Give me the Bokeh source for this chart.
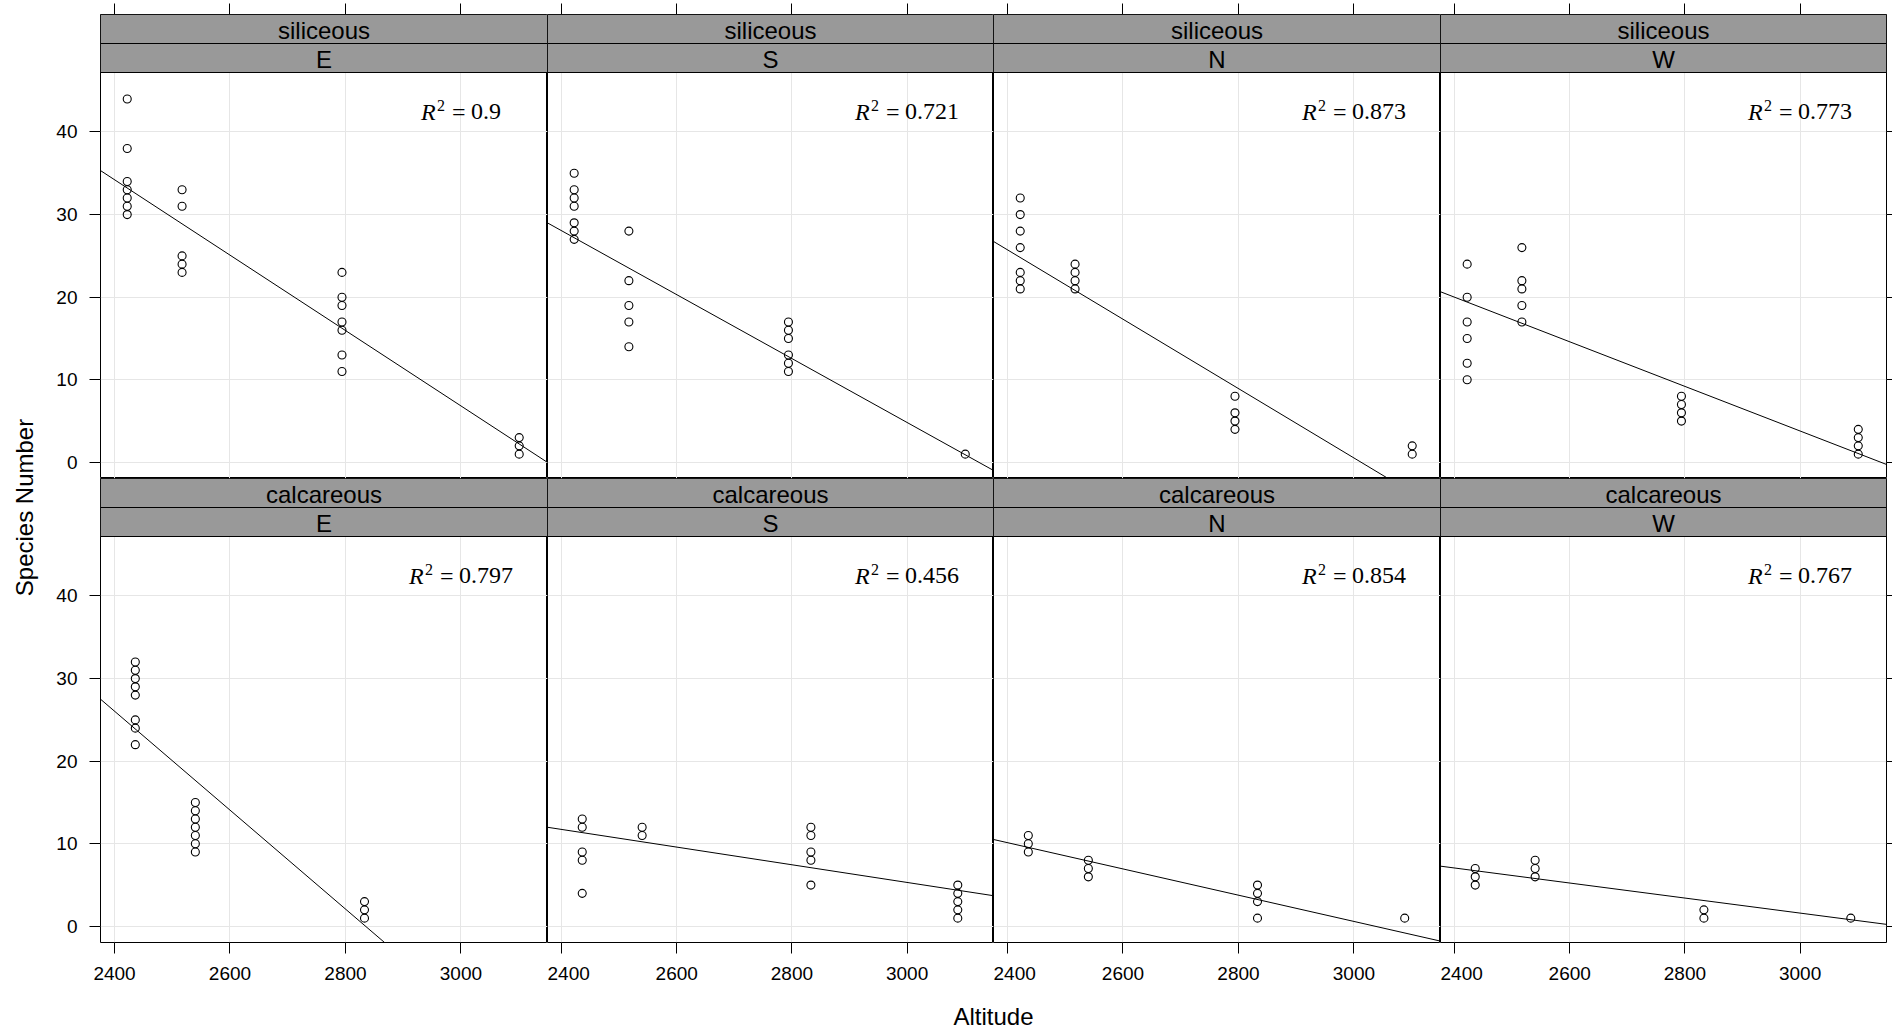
import math
from bokeh.plotting import figure
from bokeh.layouts import row, column
from bokeh.models import Range1d, FixedTicker, LinearAxis, CustomLabelingPolicy
from bokeh.core.properties import value
from bokeh.embed import file_html
from bokeh.resources import INLINE

# ---------------- data ----------------
soils = ["siliceous", "calcareous"]
aspects = ["E", "S", "N", "W"]
altitude_ticks = [2400, 2600, 2800, 3000]
species_ticks = [0, 10, 20, 30, 40]

siliceous_sites = [2422, 2517, 2794, 3101]
calcareous_sites = [2436, 2540, 2833, 3088]

# species numbers per site (one inner list per site, same order as the sites)
siliceous_E = [[44, 38, 34, 33, 32, 31, 30], [33, 31, 25, 24, 23], [23, 20, 19, 17, 16, 13, 11], [3, 2, 1]]
siliceous_S = [[35, 33, 32, 31, 29, 28, 27], [28, 22, 19, 17, 14], [17, 16, 15, 13, 12, 11], [1]]
siliceous_N = [[32, 30, 28, 26, 23, 22, 21], [24, 23, 22, 21], [8, 6, 5, 4], [2, 1]]
siliceous_W = [[24, 20, 17, 15, 12, 10], [26, 22, 21, 19, 17], [8, 7, 6, 5], [4, 3, 2, 1]]
calcareous_E = [[32, 31, 30, 29, 28, 25, 24, 22], [15, 14, 13, 12, 11, 10, 9], [3, 2, 1], []]
calcareous_S = [[13, 12, 9, 8, 4], [12, 11], [12, 11, 9, 8, 5], [5, 4, 3, 2, 1]]
calcareous_N = [[11, 10, 9], [8, 7, 6], [5, 4, 3, 1], [1]]
calcareous_W = [[7, 6, 5], [8, 7, 6], [2, 1], [1]]

r2_siliceous = ["0.9", "0.721", "0.873", "0.773"]
r2_calcareous = ["0.797", "0.456", "0.854", "0.767"]

# fitted regression lines: species = intercept + slope * altitude
fit_intercept_siliceous = [143.73, 120.93, 126.48, 84.80]
fit_slope_siliceous = [-0.04563, -0.03870, -0.04198, -0.02700]
fit_intercept_calcareous = [169.74, 37.42, 48.27, 28.91]
fit_slope_calcareous = [-0.05987, -0.01070, -0.01589, -0.00910]

groups = {
    ("siliceous", "E"): siliceous_E, ("siliceous", "S"): siliceous_S,
    ("siliceous", "N"): siliceous_N, ("siliceous", "W"): siliceous_W,
    ("calcareous", "E"): calcareous_E, ("calcareous", "S"): calcareous_S,
    ("calcareous", "N"): calcareous_N, ("calcareous", "W"): calcareous_W,
}
sites = {"siliceous": siliceous_sites, "calcareous": calcareous_sites}
r2 = {"siliceous": r2_siliceous, "calcareous": r2_calcareous}
fit_a = {"siliceous": fit_intercept_siliceous, "calcareous": fit_intercept_calcareous}
fit_b = {"siliceous": fit_slope_siliceous, "calcareous": fit_slope_calcareous}

# ---------------- layout / style ----------------
X_LO, X_HI = 2375.7, 3150.0
Y_LO, Y_HI = -1.95, 47.2
PLOT_H, STRIP_H = 406, 29
FRAME_H = PLOT_H + 2 * STRIP_H
U = (Y_HI - Y_LO) / PLOT_H          # data units per pixel (vertical)
Y_TOP = Y_HI + 2 * STRIP_H * U
FRAME_W = [447, 446, 447, 446]
LEFT_W, RIGHT_W, TOP_H, BOTTOM_H = 60, 6, 14, 52
YLAB_W, XLAB_H = 40, 39
TOTAL_W = 1892
SANS, SERIF = "Liberation Sans", "Liberation Serif"
INK, STRIP_FILL, GRID = "black", "#999999", "#e6e6e6"
R2_X = 3000


def num_width(s, fs=24):
    return sum(0.25 if ch == "." else 0.5 for ch in s) * fs


def style_axis(ax, ticks, labels, tick_out, standoff=0):
    ax.ticker = FixedTicker(ticks=ticks)
    ax.axis_line_color = None
    ax.major_tick_line_color = INK
    ax.major_tick_line_width = 1
    ax.major_tick_in = 0
    ax.major_tick_out = tick_out
    ax.minor_tick_line_color = None
    if labels:
        ax.major_label_text_font = SANS
        ax.major_label_text_font_size = "19px"
        ax.major_label_text_color = INK
        ax.major_label_standoff = standoff
    else:
        ax.major_label_text_font_size = "0px"
        ax.major_label_standoff = 0
        ax.major_label_policy = CustomLabelingPolicy(code="""
            const result = new Set()
            return result
        """)


def make_panel(r, c):
    soil, aspect = soils[r], aspects[c]
    left = LEFT_W if c == 0 else 0
    right = RIGHT_W if c == 3 else 0
    top = TOP_H if r == 0 else 0
    bottom = BOTTOM_H if r == 1 else 0
    p = figure(width=FRAME_W[c] + left + right, height=FRAME_H + top + bottom,
               x_range=Range1d(X_LO, X_HI), y_range=Range1d(Y_LO, Y_TOP),
               x_axis_location=None, y_axis_location=None, title=None,
               toolbar_location=None, output_backend="svg",
               min_border=0, min_border_left=left, min_border_right=right,
               min_border_top=top, min_border_bottom=bottom)
    p.background_fill_color = "white"
    p.border_fill_color = "white"
    p.outline_line_color = INK
    p.outline_line_width = 1
    p.xgrid.ticker = FixedTicker(ticks=altitude_ticks)
    p.ygrid.ticker = FixedTicker(ticks=species_ticks)
    p.grid.grid_line_color = GRID
    p.grid.grid_line_width = 1

    if r == 0:
        ax = LinearAxis()
        style_axis(ax, altitude_ticks, False, 11)
        p.add_layout(ax, "above")
    else:
        ax = LinearAxis()
        style_axis(ax, altitude_ticks, True, 11, 13)
        p.add_layout(ax, "below")
    if c == 0:
        ax = LinearAxis()
        style_axis(ax, species_ticks, True, 11, 12)
        p.add_layout(ax, "left")
    if c == 3:
        ax = LinearAxis()
        style_axis(ax, species_ticks, False, 6)
        p.add_layout(ax, "right")

    # regression line
    a, b = fit_a[soil][c], fit_b[soil][c]
    xs = [X_LO, X_HI]
    p.line(xs, [a + b * x for x in xs], line_color=INK, line_width=1)

    # points
    g = groups[(soil, aspect)]
    px = [s for s, vals in zip(sites[soil], g) for _ in vals]
    py = [v for vals in g for v in vals]
    p.scatter(px, py, marker="circle", size=8, fill_color=None,
              line_color=INK, line_width=1.1)

    # strips
    s1 = Y_HI + STRIP_H * U
    p.quad(left=[X_LO, X_LO], right=[X_HI, X_HI], bottom=[Y_HI, s1], top=[s1, Y_TOP],
           fill_color=STRIP_FILL, line_color=INK, line_width=1)
    xm = (X_LO + X_HI) / 2
    off = (STRIP_H / 2 - 1.6) * U
    p.text(x=[xm, xm], y=[Y_HI + off, s1 + off], text=[aspect, soil],
           text_font=value(SANS), text_font_size="24px", text_color=INK,
           text_align="center", text_baseline="middle")

    # R^2 annotation
    lab = r2[soil][c]
    mid = Y_HI - 39 * U
    x0 = -(50 + num_width(lab)) / 2
    common = dict(text_font=value(SERIF), text_color=INK, text_align="left",
                  text_baseline="middle")
    p.text(x=[R2_X], y=[mid], text=["R"], x_offset=x0, text_font_style="italic",
           text_font_size="24px", **common)
    p.text(x=[R2_X], y=[mid + 6 * U], text=["2"], x_offset=x0 + 16,
           text_font_size="16px", **common)
    p.text(x=[R2_X], y=[mid], text=["="], x_offset=x0 + 31,
           text_font_size="24px", **common)
    p.text(x=[R2_X], y=[mid], text=[lab], x_offset=x0 + 50,
           text_font_size="24px", **common)
    return p


top_row = row(*[make_panel(0, c) for c in range(4)])
bottom_row = row(*[make_panel(1, c) for c in range(4)])
panels_h = FRAME_H * 2 + TOP_H + BOTTOM_H

ylab = figure(width=YLAB_W, height=panels_h, x_range=Range1d(0, YLAB_W), y_range=Range1d(0, panels_h),
              x_axis_location=None, y_axis_location=None, title=None, toolbar_location=None,
              output_backend="svg", min_border=0)
ylab.outline_line_color = None
ylab.grid.visible = False
ylab.text(x=[24], y=[panels_h - 507], text=["Species Number"], angle=math.pi / 2,
          text_font=value(SANS), text_font_size="24px", text_color=INK,
          text_align="center", text_baseline="middle")

xlab = figure(width=TOTAL_W, height=XLAB_H, x_range=Range1d(0, TOTAL_W), y_range=Range1d(0, XLAB_H),
              x_axis_location=None, y_axis_location=None, title=None, toolbar_location=None,
              output_backend="svg", min_border=0)
xlab.outline_line_color = None
xlab.grid.visible = False
xlab.text(x=[993], y=[XLAB_H - 22], text=["Altitude"],
          text_font=value(SANS), text_font_size="24px", text_color=INK,
          text_align="center", text_baseline="middle")

layout = column(row(ylab, column(top_row, bottom_row)), xlab)

open("out.html", "w").write(file_html(layout, INLINE, title="Species Number vs Altitude"))
